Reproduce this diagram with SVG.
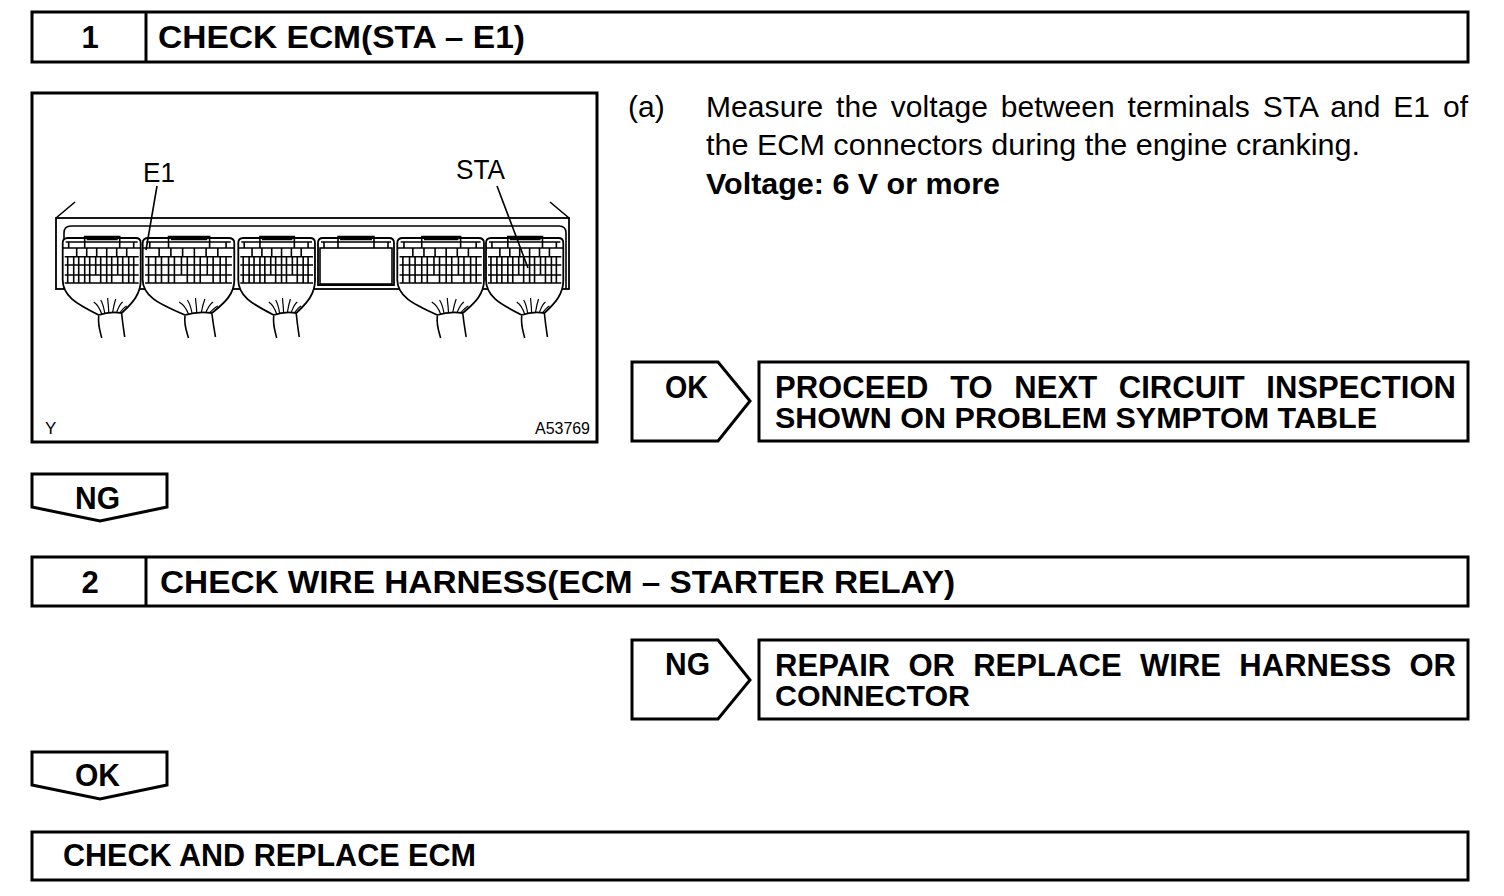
<svg xmlns="http://www.w3.org/2000/svg" width="1504" height="896" viewBox="0 0 1504 896">
<style>
.box{fill:#fff;stroke:#000;stroke-width:3}
.ln{fill:none;stroke:#000;stroke-width:1.6}
.thin{fill:none;stroke:#000;stroke-width:1.2}
.b{font-family:"Liberation Sans",Arial,sans-serif;font-weight:bold;font-size:31px;fill:#000}
.b2{font-family:"Liberation Sans",Arial,sans-serif;font-weight:bold;font-size:30px;fill:#000}
.r{font-family:"Liberation Sans",Arial,sans-serif;font-size:30px;fill:#000}
.lab{font-family:"Liberation Sans",Arial,sans-serif;font-size:27px;fill:#000}
.sm{font-family:"Liberation Sans",Arial,sans-serif;font-size:17px;fill:#000}
</style>
<defs>
<g id="mod">
<path vector-effect="non-scaling-stroke" d="M0,5 Q0,0 5,0 L73,0 Q78,0 78,5 L78,40 C79,58 66,68 59,75 Q47,73 36,77 C14,66 -1,58 0,40 Z" fill="#fff" stroke="#000" stroke-width="1.8"/>
<path vector-effect="non-scaling-stroke" class="ln" d="M36,78 C35,88 38,95 39,100 M59,76 C60,86 61,92 62,99"/>
<path vector-effect="non-scaling-stroke" class="thin" d="M39,76 C37,70 34,66 31,64 M42,75 C41,69 40,65 38,62 M46,74 C46,68 45,64 45,60 M50,74 C51,68 52,64 53,61 M54,74 C56,69 57,66 60,64 M57,75 C60,71 62,69 64,68"/>
<path vector-effect="non-scaling-stroke" class="ln" d="M22,4 L22,-1.5 L57,-1.5 L57,4 M24,1.5 L55,1.5 M3,4 L75,4 M0,10 L78,10 M6,4 L6,10 M22,4 L22,10 M57,4 L57,10 M71,4 L71,10"/>
<path vector-effect="non-scaling-stroke" class="ln" d="M2,18.7 L76,18.7 M2,27 L76,27 M2,37 L76,37 M2,45 L76,45 M14,10 L14,18.7 M24,10 L24,18.7 M34,10 L34,18.7 M44,10 L44,18.7 M54,10 L54,18.7 M64,10 L64,18.7 M5,18.7 L5,45 M11,18.7 L11,45 M16,18.7 L16,45 M22,18.7 L22,45 M27,18.7 L27,45 M33,18.7 L33,37 M38,18.7 L38,45 M44,18.7 L44,45 M49,18.7 L49,45 M55,18.7 L55,37 M60,18.7 L60,45 M66,18.7 L66,45 M71,18.7 L71,45"/>
</g>
</defs>

<g id="header1">
<rect class="box" x="32" y="12" width="1436" height="50"/>
<line x1="146" y1="12" x2="146" y2="62" stroke="#000" stroke-width="3"/>
<text class="b" x="90" y="48" text-anchor="middle">1</text>
<text class="b" x="158" y="48" textLength="367" lengthAdjust="spacingAndGlyphs">CHECK ECM(STA – E1)</text>
</g>

<g id="illustration">
<rect class="box" x="32" y="93" width="565" height="349"/>
<path class="ln" d="M56,218 L75,202 M569,218 L550,202"/>
<rect x="56" y="218" width="513" height="71" fill="#fff" stroke="#000" stroke-width="1.8"/>
<path class="ln" d="M64,289 L64,233 Q64,226 71,226 L559,226 Q566,226 566,233 L566,289"/>
<use href="#mod" transform="translate(62.7,238) scale(1,1)"/>
<use href="#mod" transform="translate(142.7,238) scale(1.174,1)"/>
<use href="#mod" transform="translate(238.3,238) scale(0.983,1)"/>
<use href="#mod" transform="translate(397.3,238) scale(1.111,1)"/>
<use href="#mod" transform="translate(486,238) scale(0.991,1)"/>
<path d="M318,285 L318,243 Q318,238 323,238 L389,238 Q394,238 394,243 L394,285 Z" fill="#fff" stroke="#000" stroke-width="1.8"/>
<path class="ln" d="M338,242 L338,236.5 L374,236.5 L374,242 M340,239.5 L372,239.5 M321,242 L391,242 M324,242 L324,248 M338,242 L338,248 M374,242 L374,248 M388,242 L388,248"/>
<rect x="320" y="248" width="72" height="36" fill="#fff" stroke="#000" stroke-width="1.6"/>
<path class="ln" d="M157,186 L146,250 M497,186 L528,268"/>
<text class="lab" x="143" y="182" textLength="32" lengthAdjust="spacingAndGlyphs">E1</text>
<text class="lab" x="456" y="179" textLength="49" lengthAdjust="spacingAndGlyphs">STA</text>
<text class="sm" x="45" y="434">Y</text>
<text class="sm" x="535" y="434" textLength="55" lengthAdjust="spacingAndGlyphs">A53769</text>
</g>

<g id="instruction">
<text class="r" x="628" y="117">(a)</text>
<text class="r" x="706" y="117" word-spacing="4.4" textLength="762" lengthAdjust="spacing">Measure the voltage between terminals STA and E1 of</text>
<text class="r" x="706" y="155" textLength="654" lengthAdjust="spacingAndGlyphs">the ECM connectors during the engine cranking.</text>
<text class="r" x="706" y="194" font-weight="bold" textLength="294" lengthAdjust="spacingAndGlyphs">Voltage: 6 V or more</text>
</g>

<g id="ok1">
<polygon class="box" points="632,362 718,362 750,401 718,441 632,441"/>
<text class="b" x="665" y="398" textLength="43" lengthAdjust="spacingAndGlyphs">OK</text>
</g>
<g id="result1">
<rect class="box" x="759" y="362" width="709" height="79"/>
<text class="b" x="775" y="398" word-spacing="13" textLength="681" lengthAdjust="spacing">PROCEED TO NEXT CIRCUIT INSPECTION</text>
<text class="b2" x="775" y="428" textLength="602" lengthAdjust="spacingAndGlyphs">SHOWN ON PROBLEM SYMPTOM TABLE</text>
</g>

<g id="ng1">
<polygon class="box" points="32,474 167,474 167,507 100,521 32,507"/>
<text class="b" x="75" y="509" textLength="45" lengthAdjust="spacingAndGlyphs">NG</text>
</g>

<g id="header2">
<rect class="box" x="32" y="557" width="1436" height="49"/>
<line x1="146" y1="557" x2="146" y2="606" stroke="#000" stroke-width="3"/>
<text class="b" x="90" y="593" text-anchor="middle">2</text>
<text class="b" x="160" y="593" textLength="795" lengthAdjust="spacingAndGlyphs">CHECK WIRE HARNESS(ECM – STARTER RELAY)</text>
</g>

<g id="ng2">
<polygon class="box" points="632,640 718,640 750,680 718,719 632,719"/>
<text class="b" x="665" y="675" textLength="45" lengthAdjust="spacingAndGlyphs">NG</text>
</g>
<g id="result2">
<rect class="box" x="759" y="640" width="709" height="79"/>
<text class="b" x="775" y="676" word-spacing="9.4" textLength="681" lengthAdjust="spacing">REPAIR OR REPLACE WIRE HARNESS OR</text>
<text class="b2" x="775" y="706" textLength="195" lengthAdjust="spacingAndGlyphs">CONNECTOR</text>
</g>

<g id="ok2">
<polygon class="box" points="32,752 167,752 167,785 100,799 32,785"/>
<text class="b" x="75" y="786" textLength="45" lengthAdjust="spacingAndGlyphs">OK</text>
</g>

<g id="final">
<rect class="box" x="32" y="832" width="1436" height="48"/>
<text class="b" x="63" y="866" textLength="413" lengthAdjust="spacingAndGlyphs">CHECK AND REPLACE ECM</text>
</g>
</svg>
